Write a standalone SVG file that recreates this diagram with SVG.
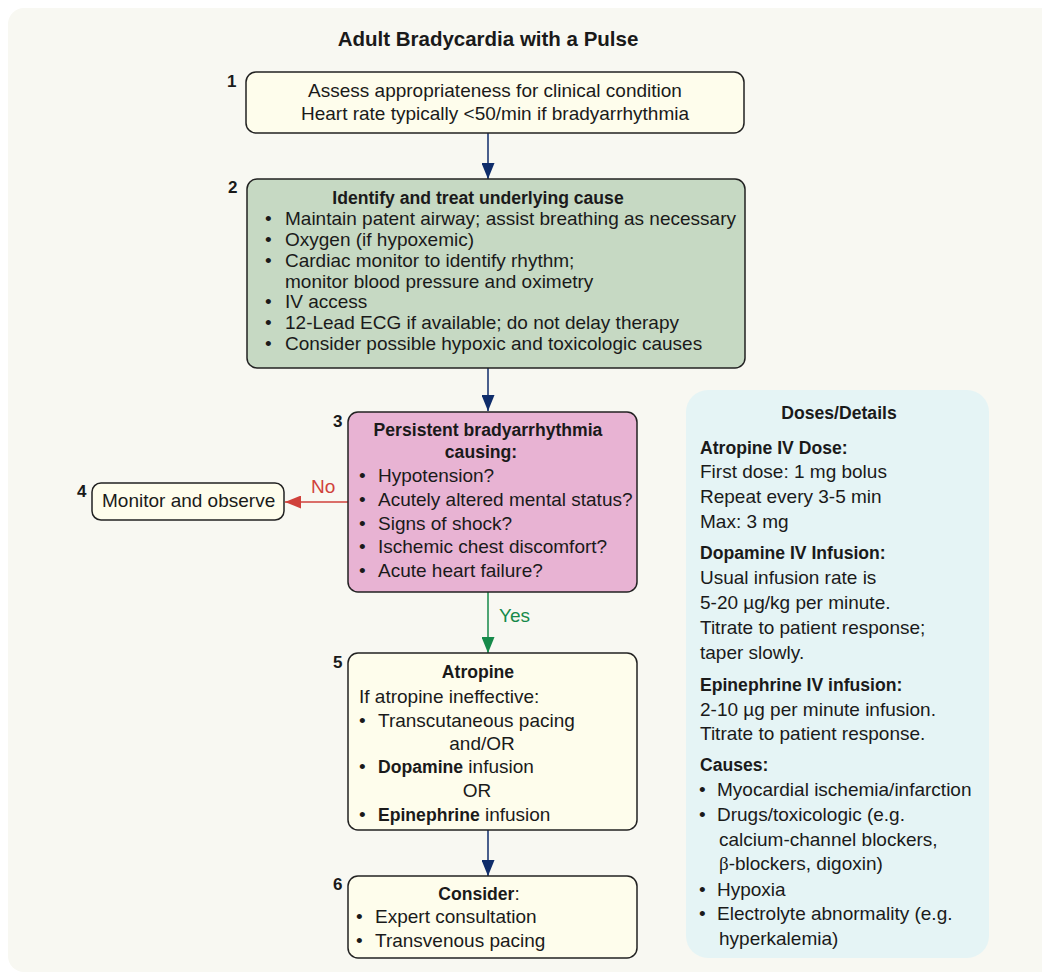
<svg xmlns="http://www.w3.org/2000/svg" width="1042" height="977" viewBox="0 0 1042 977">
<style>
text{font-family:"Liberation Sans",Arial,sans-serif;font-size:19px;fill:#1a1a1a}
.b{font-weight:bold;font-size:17.6px}
.c{text-anchor:middle}
.num{font-weight:bold;font-size:17px}
.box{stroke:#222;stroke-width:1.5}
.cream{fill:#fefdec}
.navy{stroke:#0f2d6b;stroke-width:1.5;fill:none}
</style>
<defs>
<marker id="hNavy" viewBox="0 0 16 13" refX="16" refY="6.5" markerWidth="16" markerHeight="13" markerUnits="userSpaceOnUse" orient="auto"><path d="M0,0 L16,6.5 L0,13 Z" fill="#0f2d6b"/></marker>
<marker id="hRed" viewBox="0 0 16 13" refX="16" refY="6.5" markerWidth="16" markerHeight="13" markerUnits="userSpaceOnUse" orient="auto"><path d="M0,0 L16,6.5 L0,13 Z" fill="#d0413b"/></marker>
<marker id="hGreen" viewBox="0 0 16 13" refX="16" refY="6.5" markerWidth="16" markerHeight="13" markerUnits="userSpaceOnUse" orient="auto"><path d="M0,0 L16,6.5 L0,13 Z" fill="#168a4a"/></marker>
</defs>
<rect width="1042" height="977" fill="#ffffff"/>
<rect x="8" y="8" width="1060" height="964" rx="16" fill="#f8f8f2"/>
<text x="488" y="46" class="b c" style="font-size:20.5px">Adult Bradycardia with a Pulse</text>

<g id="connectors">
<path class="navy" d="M488,133 V179" marker-end="url(#hNavy)"/>
<path class="navy" d="M488,368 V411" marker-end="url(#hNavy)"/>
<path d="M348,502 H285" stroke="#d0413b" stroke-width="1.5" fill="none" marker-end="url(#hRed)"/>
<text x="311" y="493" style="fill:#d0413b">No</text>
<path d="M488,592 V653" stroke="#168a4a" stroke-width="1.5" fill="none" marker-end="url(#hGreen)"/>
<text x="499" y="622" style="fill:#168a4a">Yes</text>
<path class="navy" d="M488,830 V876" marker-end="url(#hNavy)"/>
</g>

<g id="node1">
<rect class="box cream" x="246" y="72" width="498" height="61" rx="10"/>
<text x="227" y="87" class="num">1</text>
<text x="495" y="97" class="c">Assess appropriateness for clinical condition</text>
<text x="495" y="120" class="c">Heart rate typically &lt;50/min if bradyarrhythmia</text>
</g>

<g id="node2">
<rect class="box" x="247" y="179" width="498" height="189" rx="10" fill="#c6d9c3"/>
<text x="228" y="193" class="num">2</text>
<text x="478" y="204" class="b c">Identify and treat underlying cause</text>
<text x="265" y="225">•</text><text x="285" y="225">Maintain patent airway; assist breathing as necessary</text>
<text x="265" y="246">•</text><text x="285" y="246">Oxygen (if hypoxemic)</text>
<text x="265" y="267">•</text><text x="285" y="267">Cardiac monitor to identify rhythm;</text>
<text x="285" y="288">monitor blood pressure and oximetry</text>
<text x="265" y="308">•</text><text x="285" y="308">IV access</text>
<text x="265" y="329">•</text><text x="285" y="329">12-Lead ECG if available; do not delay therapy</text>
<text x="265" y="350">•</text><text x="285" y="350">Consider possible hypoxic and toxicologic causes</text>
</g>

<g id="node3">
<rect class="box" x="348" y="412" width="289" height="180" rx="10" fill="#e8b3d3"/>
<text x="333" y="427" class="num">3</text>
<text x="488" y="436" class="b c">Persistent bradyarrhythmia</text>
<text x="481" y="458" class="b c">causing:</text>
<text x="359" y="482">•</text><text x="378" y="482">Hypotension?</text>
<text x="359" y="506">•</text><text x="378" y="506">Acutely altered mental status?</text>
<text x="359" y="530">•</text><text x="378" y="530">Signs of shock?</text>
<text x="359" y="553">•</text><text x="378" y="553">Ischemic chest discomfort?</text>
<text x="359" y="577">•</text><text x="378" y="577">Acute heart failure?</text>
</g>

<g id="node4">
<rect class="box cream" x="92" y="483" width="192" height="37" rx="9"/>
<text x="77" y="497" class="num">4</text>
<text x="102" y="507">Monitor and observe</text>
</g>

<g id="node5">
<rect class="box cream" x="348" y="653" width="289" height="177" rx="10"/>
<text x="333" y="668" class="num">5</text>
<text x="478" y="678" class="b c">Atropine</text>
<text x="359" y="703">If atropine ineffective:</text>
<text x="359" y="727">•</text><text x="378" y="727">Transcutaneous pacing</text>
<text x="482" y="750" class="c">and/OR</text>
<text x="359" y="773">•</text><text x="378" y="773"><tspan class="b">Dopamine</tspan> infusion</text>
<text x="477" y="797" class="c">OR</text>
<text x="359" y="821">•</text><text x="378" y="821"><tspan class="b">Epinephrine</tspan> infusion</text>
</g>

<g id="node6">
<rect class="box cream" x="348" y="876" width="289" height="82" rx="10"/>
<text x="333" y="890" class="num">6</text>
<text x="479" y="900" class="c"><tspan class="b">Consider</tspan>:</text>
<text x="356" y="923">•</text><text x="375" y="923">Expert consultation</text>
<text x="356" y="947">•</text><text x="375" y="947">Transvenous pacing</text>
</g>

<g id="doses">
<rect x="686" y="390" width="303" height="568" rx="22" fill="#e5f4f5"/>
<text x="839" y="419" class="b c">Doses/Details</text>
<text x="700" y="454" class="b">Atropine IV Dose:</text>
<text x="700" y="478">First dose: 1 mg bolus</text>
<text x="700" y="503">Repeat every 3-5 min</text>
<text x="700" y="528">Max: 3 mg</text>
<text x="700" y="559" class="b">Dopamine IV Infusion:</text>
<text x="700" y="584">Usual infusion rate is</text>
<text x="700" y="609">5-20 µg/kg per minute.</text>
<text x="700" y="634">Titrate to patient response;</text>
<text x="700" y="659">taper slowly.</text>
<text x="700" y="691" class="b">Epinephrine IV infusion:</text>
<text x="700" y="716">2-10 µg per minute infusion.</text>
<text x="700" y="740">Titrate to patient response.</text>
<text x="700" y="771" class="b">Causes:</text>
<text x="699" y="796">•</text><text x="717" y="796">Myocardial ischemia/infarction</text>
<text x="699" y="821">•</text><text x="717" y="821">Drugs/toxicologic (e.g.</text>
<text x="719" y="846">calcium-channel blockers,</text>
<text x="719" y="870"><tspan style="font-family:'Liberation Serif',serif">β</tspan>-blockers, digoxin)</text>
<text x="699" y="896">•</text><text x="717" y="896">Hypoxia</text>
<text x="699" y="920">•</text><text x="717" y="920">Electrolyte abnormality (e.g.</text>
<text x="719" y="945">hyperkalemia)</text>
</g>
</svg>
